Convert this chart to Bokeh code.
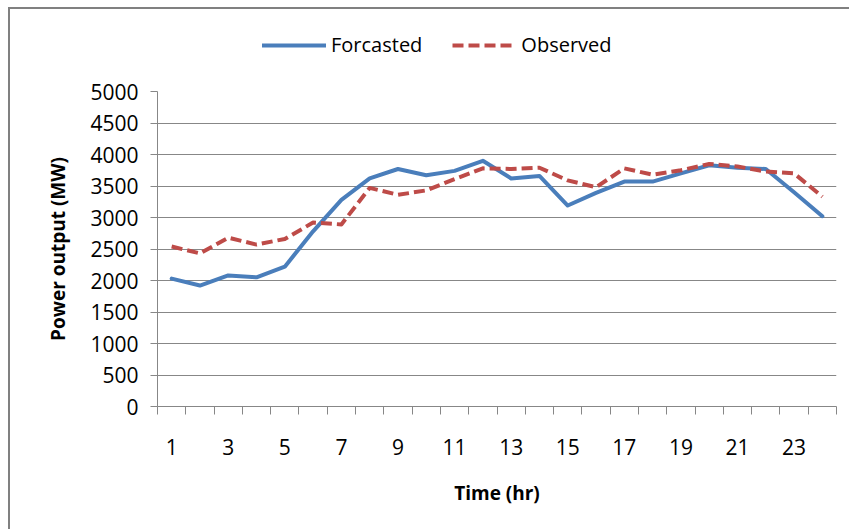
from bokeh.plotting import figure
from bokeh.layouts import column
from bokeh.models import Range1d, FixedTicker, Legend, LegendItem, ColumnDataSource
from bokeh.embed import file_html
from bokeh.resources import INLINE

# Hourly power output (MW)
hours = list(range(1, 25))
forecasted = [2030, 1920, 2080, 2050, 2220, 2780, 3280, 3620, 3770, 3670, 3740, 3900,
              3620, 3660, 3190, 3390, 3570, 3570, 3700, 3830, 3790, 3770, 3400, 3020]
observed = [2540, 2430, 2680, 2570, 2660, 2920, 2890, 3470, 3360, 3430, 3610, 3780,
            3770, 3790, 3590, 3480, 3780, 3680, 3750, 3850, 3810, 3730, 3700, 3330]
x_tick_labels = [1, 3, 5, 7, 9, 11, 13, 15, 17, 19, 21, 23]
y_ticks = list(range(0, 5001, 500))
series_names = ["Forcasted", "Observed"]

FONT = "Open Sans"
GREY = "#878787"
BLUE = "#4a7ebb"
RED = "#be4b48"
DASH = "11 5"

src = ColumnDataSource(dict(hour=hours, forecasted=forecasted, observed=observed))

# ---- legend strip across the top of the chart ----
top = figure(width=849, height=70, output_backend="svg", toolbar_location=None,
             x_range=Range1d(0, 1), y_range=Range1d(0, 1),
             x_axis_type=None, y_axis_type=None,
             min_border_left=0, min_border_right=0, min_border_top=0, min_border_bottom=0)
top.grid.visible = False
top.outline_line_color = None
top.background_fill_alpha = 0
top.border_fill_alpha = 0
# key renderers sit outside the visible range; only their legend swatches show
key_f = top.line(x=[-2, -1], y=[-2, -1], line_color=BLUE, line_width=4, line_cap="round")
key_o = top.line(x=[-2, -1], y=[-2, -1], line_color=RED, line_width=4, line_dash=DASH)
legend = Legend(items=[LegendItem(label=series_names[0], renderers=[key_f]),
                       LegendItem(label=series_names[1], renderers=[key_o])],
                orientation="horizontal", location=(105, 12),
                glyph_width=64, glyph_height=20, label_standoff=5, spacing=30,
                padding=0, margin=0, border_line_alpha=0, background_fill_alpha=0,
                label_text_font=FONT, label_text_font_size="20px",
                label_text_color="black")
top.add_layout(legend, "center")

# ---- main line chart ----
p = figure(width=849, height=459, output_backend="svg", toolbar_location=None,
           x_range=Range1d(0.5, 24.5), y_range=Range1d(0, 5000),
           min_border_left=157, min_border_right=13, min_border_top=21,
           min_border_bottom=123)
p.outline_line_color = None
p.background_fill_alpha = 0
p.border_fill_alpha = 0

# x axis: labels on odd hours, tick marks at category boundaries
xa = p.xaxis[0]
xa.ticker = FixedTicker(ticks=x_tick_labels,
                        minor_ticks=[h - 0.5 for h in hours] + [24.5])
xa.major_tick_in = 0
xa.major_tick_out = 0
xa.minor_tick_in = 0
xa.minor_tick_out = 8
xa.minor_tick_line_color = GREY
xa.axis_line_color = GREY
xa.major_label_standoff = 24
xa.major_label_text_font = FONT
xa.major_label_text_font_size = "21px"
xa.major_label_text_color = "black"
xa.axis_label = "Time (hr)"
xa.axis_label_text_font = FONT
xa.axis_label_text_font_size = "19px"
xa.axis_label_text_font_style = "bold"
xa.axis_label_text_color = "black"
xa.axis_label_standoff = 22

ya = p.yaxis[0]
ya.ticker = FixedTicker(ticks=y_ticks, minor_ticks=[])
ya.major_tick_in = 0
ya.major_tick_out = 7
ya.major_tick_line_color = GREY
ya.axis_line_color = GREY
ya.major_label_standoff = 12
ya.major_label_text_font = FONT
ya.major_label_text_font_size = "21px"
ya.major_label_text_color = "black"
ya.axis_label = "Power output (MW)"
ya.axis_label_text_font = FONT
ya.axis_label_text_font_size = "19px"
ya.axis_label_text_font_style = "bold"
ya.axis_label_text_color = "black"
ya.axis_label_standoff = 16

p.xgrid.grid_line_color = None
p.ygrid.grid_line_color = GREY
p.ygrid.grid_line_width = 1

p.line("hour", "forecasted", source=src, line_color=BLUE, line_width=4,
       line_join="round", line_cap="round")
p.line("hour", "observed", source=src, line_color=RED, line_width=4,
       line_join="round", line_dash=DASH)

# chart border on the top and left edges, painted behind the transparent canvases
layout = column(top, p, spacing=0)
layout.styles = {
    "background": ("linear-gradient(#808080, #808080) 8px 7px / 2px calc(100% - 7px) no-repeat, "
                   "linear-gradient(#808080, #808080) 8px 7px / calc(100% - 8px) 2px no-repeat, "
                   "white"),
}

open("out.html", "w").write(file_html(layout, INLINE))
